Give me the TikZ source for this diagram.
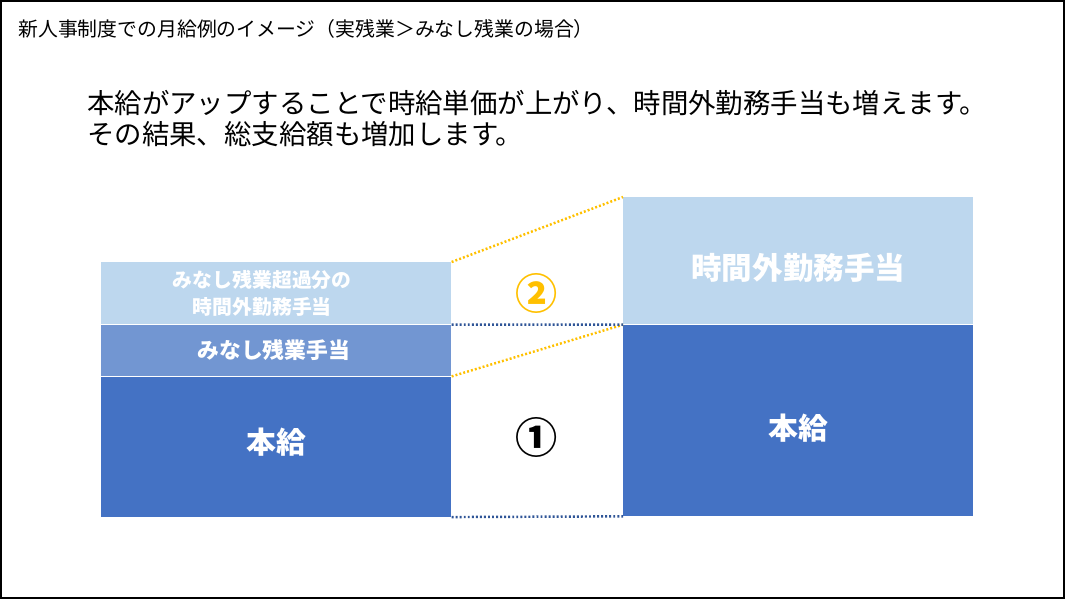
\documentclass[tikz,border=0pt]{standalone}
\usepackage{fontspec}
\setmainfont{Noto Sans CJK JP}
\usetikzlibrary{positioning}
\definecolor{paleblue}{HTML}{BDD7EE}
\definecolor{midblue}{HTML}{7296D2}
\definecolor{deepblue}{HTML}{4472C4}
\definecolor{gold}{HTML}{FFC000}
\definecolor{navy}{HTML}{2F5597}
\tikzset{
  bar/.style={rectangle, inner sep=0pt, minimum width=7cm, anchor=north west},
  barlabel/.style={text=white, align=center, inner sep=0pt},
  dotline/.style={line width=1.4pt, dash pattern=on 1.1pt off 1.2pt},
}

\begin{document}
\begin{tikzpicture}[x=0.02cm, y=-0.02cm]
  \useasboundingbox (0,0) rectangle (1067,601);
  \draw[line width=1.3pt] (1,1) rectangle (1064,598);
  \node[anchor=west, inner sep=0pt, font=\fontsize{11.3}{13}\selectfont] (title) at (18,29)
    {新人事制度での月給例のイメージ（実残業＞みなし残業の場合）};
  \node[anchor=north west, align=left, inner sep=0pt,
        font=\fontsize{15.6}{17.8}\selectfont] (lead) at (87,90)
    {本給がアップすることで時給単価が上がり、時間外勤務手当も増えます。\\
     その結果、総支給額も増加します。};
  % left bar
  \node[bar, fill=paleblue, minimum height=1.24cm] (lexc) at (101,262) {};
  \node[bar, fill=midblue, minimum height=1.02cm] (lfix) at (lexc.south west) {};
  \node[bar, fill=deepblue, minimum height=2.8cm] (lbase) at (lfix.south west) {};
  \node[barlabel, xshift=-0.28cm, font=\bfseries\fontsize{11.3}{15.8}\selectfont] (lexctext) at (lexc.center)
    {みなし残業超過分の\\時間外勤務手当};
  \node[barlabel, xshift=-0.05cm, font=\bfseries\fontsize{12.4}{14}\selectfont] (lfixtext) at (lfix.center) {みなし残業手当};
  \node[barlabel, yshift=0.1cm, font=\bfseries\fontsize{17}{19}\selectfont] (lbasetext) at (lbase.center) {本給};
  % right bar
  \node[bar, fill=paleblue, minimum height=2.54cm] (rover) at (623,197) {};
  \node[bar, fill=deepblue, minimum height=3.82cm] (rbase) at (rover.south west) {};
  \node[barlabel, yshift=-0.14cm, font=\bfseries\fontsize{17.4}{19}\selectfont] (rovertext) at (rover.center) {時間外勤務手当};
  \node[barlabel, yshift=-0.16cm, font=\bfseries\fontsize{17}{19}\selectfont] (rbasetext) at (rbase.center) {本給};
  % connectors
  \draw[dotline, gold] (lexc.north east) -- (rover.north west);
  \draw[dotline, gold] (lfix.south east) -- (rbase.north west);
  \draw[dotline, navy] (lexc.south east) -- (rbase.north west);
  \draw[dotline, navy] (lbase.south east) -- (rbase.south west);
  \node[text=gold, font=\bfseries\fontsize{24}{24}\selectfont] (two) at (537,293) {②};
  \node[font=\bfseries\fontsize{24}{24}\selectfont] (one) at (537,437) {①};
\end{tikzpicture}
\end{document}
